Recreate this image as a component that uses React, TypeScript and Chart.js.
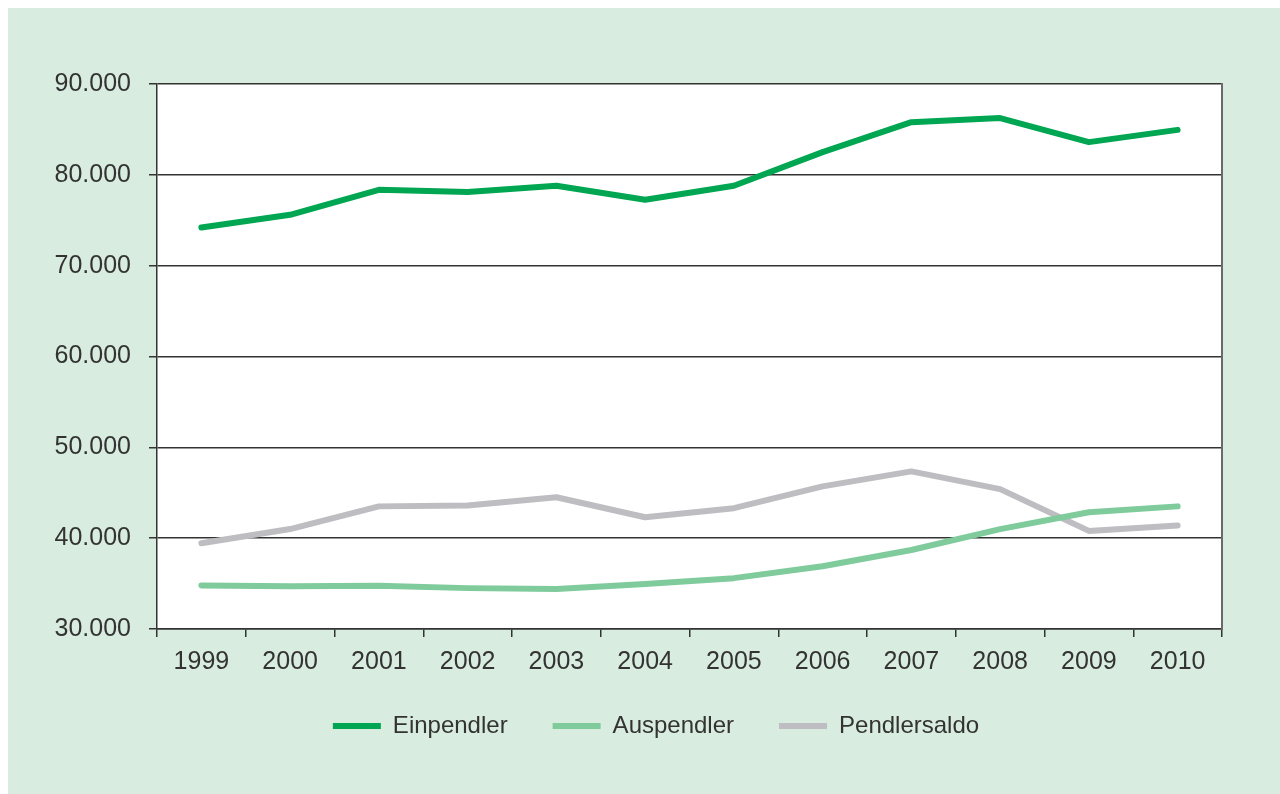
import React, { useEffect, useRef } from "react";
import { Chart, registerables } from "chart.js";

Chart.register(...registerables);

const years = ["1999", "2000", "2001", "2002", "2003", "2004", "2005", "2006", "2007", "2008", "2009", "2010"];
const einpendler = [74200, 75600, 78350, 78100, 78800, 77250, 78800, 82500, 85800, 86250, 83600, 84950];
const auspendler = [34800, 34700, 34750, 34500, 34400, 34950, 35600, 36900, 38700, 41000, 42850, 43500];
const pendlersaldo = [39450, 41000, 43500, 43600, 44500, 42300, 43300, 45700, 47350, 45400, 40800, 41400];
const seriesNames = ["Einpendler", "Auspendler", "Pendlersaldo"];

const BG = "#d8ecdf";
const TEXT = "#333333";
const GRID = "#333333";
const FONT = "'Liberation Sans', Arial, sans-serif";

const fmt = (v: number) => String(v).replace(/\B(?=(\d{3})+(?!\d))/g, ".");

const bgPlugin = {
  id: "bgPlugin",
  beforeDraw(chart: any) {
    const { ctx, chartArea } = chart;
    ctx.save();
    ctx.fillStyle = BG;
    ctx.fillRect(0, 0, ctx.canvas.width, ctx.canvas.height);
    ctx.fillStyle = "#ffffff";
    ctx.fillRect(chartArea.left, chartArea.top, chartArea.right - chartArea.left, chartArea.bottom - chartArea.top);
    ctx.restore();
  },
};

export default function App() {
  const ref = useRef<HTMLCanvasElement | null>(null);

  useEffect(() => {
    if (!ref.current) return;
    const mk = (label: string, data: number[], color: string) => ({
      label,
      data,
      borderColor: color,
      backgroundColor: color,
      borderWidth: 6,
      borderCapStyle: "round" as const,
      borderJoinStyle: "round" as const,
      pointRadius: 0,
      pointHoverRadius: 0,
      tension: 0,
      fill: false,
    });
    const chart = new Chart(ref.current, {
      type: "line",
      data: {
        labels: years,
        datasets: [
          mk(seriesNames[0], einpendler, "#00a651"),
          mk(seriesNames[1], auspendler, "#7fcb9c"),
          mk(seriesNames[2], pendlersaldo, "#bdbdc2"),
        ],
      },
      options: {
        responsive: false,
        animation: false,
        events: [],
        layout: { padding: { top: 76, left: 24, right: 0, bottom: 46 } },
        plugins: {
          tooltip: { enabled: false },
          legend: {
            position: "bottom",
            labels: {
              usePointStyle: true,
              pointStyle: "line",
              pointStyleWidth: 48,
              padding: 45,
              color: TEXT,
              font: { family: FONT, size: 24 },
            },
          },
        },
        scales: {
          x: {
            type: "category",
            offset: true,
            grid: { offset: true, drawOnChartArea: false, drawTicks: true, tickLength: 8, color: GRID, lineWidth: 1.5 },
            border: { display: true, color: GRID, width: 1.5 },
            ticks: { color: TEXT, font: { family: FONT, size: 25 }, padding: 10, maxRotation: 0, autoSkip: false },
            afterFit: (s: any) => { s.height = 40; },
          },
          y: {
            min: 30000,
            max: 90000,
            ticks: { stepSize: 10000, color: TEXT, font: { family: FONT, size: 25 }, padding: 18, callback: (v: any) => fmt(Number(v)) },
            grid: { color: GRID, lineWidth: 1.5, tickLength: 8 },
            border: { display: true, color: GRID, width: 1.5 },
            afterFit: (s: any) => { s.width = 125; },
          },
          y2: {
            position: "right",
            min: 30000,
            max: 90000,
            grid: { display: false, drawTicks: false },
            ticks: { display: false },
            border: { display: true, color: "#6a6a6a", width: 2 },
            afterFit: (s: any) => { s.width = 58; },
          },
        },
      },
      plugins: [bgPlugin],
    });
    return () => chart.destroy();
  }, []);

  return (
    <div style={{ position: "fixed", left: 8, top: 8, width: 1272, height: 786, background: BG }}>
      <canvas ref={ref} width={1272} height={786} style={{ display: "block" }} />
    </div>
  );
}
